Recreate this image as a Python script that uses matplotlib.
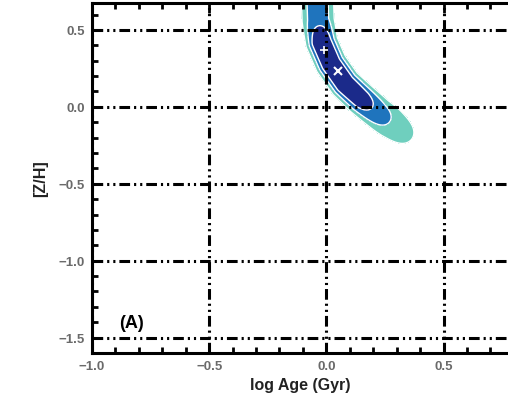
import numpy as np
import matplotlib
matplotlib.use("Agg")
import matplotlib.pyplot as plt
from matplotlib.ticker import MultipleLocator

plt.rcParams['font.family'] = ['Liberation Sans', 'DejaVu Sans']

# ridge of the probability surface (log age, [Z/H]), its peak value and width
track_age = [-0.04, -0.035, -0.02, 0.02, 0.08, 0.15, 0.22, 0.28, 0.33]
track_zh = [0.80, 0.56, 0.42, 0.28, 0.15, 0.05, -0.04, -0.11, -0.17]
track_peak = [0.55, 0.55, 1.00, 1.00, 1.00, 0.90, 0.55, 0.25, 0.12]
track_width = [0.060, 0.060, 0.056, 0.056, 0.056, 0.058, 0.060, 0.066, 0.066]

levels = [0.1, 0.4, 0.75, 10.0]
fill_colors = ['#6fcfbe', '#1f74bd', '#1b2a8a']

best_fit = (0.05, 0.23)
marker_plus = (-0.01, 0.37)

xticks = [-1.0, -0.5, 0.0, 0.5]
yticks = [-1.5, -1.0, -0.5, 0.0, 0.5]

# build the surface from the ridge (y scaled to match screen aspect)
ys = 235.0 / 154.0
xg = np.linspace(-1.0, 0.8, 500)
yg = np.linspace(-1.6, 0.7, 500)
X, Y = np.meshgrid(xg, yg)
Z = np.zeros_like(X)
for i in range(len(track_age) - 1):
    for t in np.linspace(0, 1, 25):
        cx = track_age[i] + t * (track_age[i + 1] - track_age[i])
        cy = track_zh[i] + t * (track_zh[i + 1] - track_zh[i])
        a = track_peak[i] + t * (track_peak[i + 1] - track_peak[i])
        w = track_width[i] + t * (track_width[i + 1] - track_width[i])
        d2 = (X - cx) ** 2 + ((Y - cy) / ys) ** 2
        Z = np.maximum(Z, a * np.exp(-(d2 / w ** 2) ** 2))

fig = plt.figure(figsize=(5.08, 4.10), dpi=100)
ax = fig.add_axes([92 / 508, 56 / 410, 1 - 92 / 508, 350 / 410])

ax.contourf(X, Y, Z, levels=levels, colors=fill_colors, zorder=1)
ax.contour(X, Y, Z, levels=levels[:3], colors='white', linewidths=1.0, zorder=2)
ax.plot(*best_fit, marker='x', color='white', ms=6, mew=1.5, zorder=5)
ax.plot(*marker_plus, marker='+', color='white', ms=6, mew=1.2, zorder=5)

ax.set_xlim(-1.0, 0.775)
ax.set_ylim(-1.6, 0.675)
ax.set_xticks(xticks)
ax.set_yticks(yticks)
ax.set_xticklabels(['\u22121.0', '\u22120.5', '0.0', '0.5'], fontweight='bold')
ax.set_yticklabels(['\u22121.5', '\u22121.0', '\u22120.5', '0.0', '0.5'], fontweight='bold')
ax.xaxis.set_minor_locator(MultipleLocator(0.1))
ax.yaxis.set_minor_locator(MultipleLocator(0.1))
ax.tick_params(which='both', direction='in', top=True, right=False,
               width=2, color='black', labelcolor='#6a6a6a', labelsize=9.5)
ax.tick_params(which='major', length=7, pad=5)
ax.tick_params(which='minor', length=4)

ax.grid(True, which='major', color='black', lw=2.2,
        linestyle=(0, (3.5, 1.3, 0.7, 1.3, 0.7, 1.3)), zorder=3)
ax.set_axisbelow(False)
for s in ['left', 'bottom', 'top']:
    ax.spines[s].set_linewidth(2.2)
ax.spines['right'].set_visible(False)

ax.set_xlabel('log Age (Gyr)', fontsize=11.5, fontweight='bold', color='#222222')
ax.set_ylabel('[Z/H]', fontsize=11.5, fontweight='bold', color='#222222', labelpad=8)
ax.text(-0.83, -1.40, '(A)', fontsize=13, fontweight='bold', ha='center', va='center')

fig.savefig('out.png', dpi=100)
